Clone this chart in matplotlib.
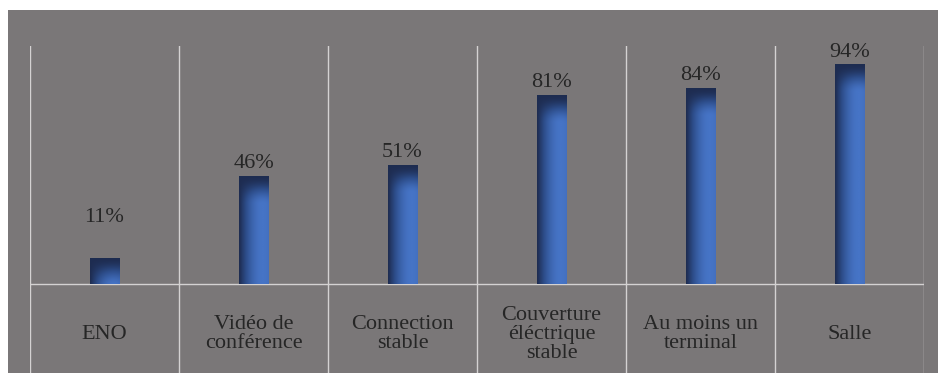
import numpy as np
import matplotlib.pyplot as plt
from matplotlib.patches import Rectangle
from matplotlib.colors import LinearSegmentedColormap

categories = ['ENO', 'Vidéo de\nconférence', 'Connection\nstable',
              'Couverture\néléctrique\nstable', 'Au moins un\nterminal', 'Salle']
values = [11, 46, 51, 81, 84, 94]

bg = '#7a7778'
grid_col = '#d4d2d2'
txt_col = '#262626'
font = ['Liberation Serif', 'DejaVu Serif']

fig = plt.figure(figsize=(9.38, 3.73), dpi=100)
fig.patch.set_facecolor('white')
# gray plot area panel
fig.patches.append(Rectangle((8 / 938, 0), 1 - 8 / 938, 1 - 10 / 373,
                             transform=fig.transFigure, facecolor=bg,
                             edgecolor='none', zorder=-10))

ax = fig.add_axes([30 / 938, 0, (924 - 30) / 938, (373 - 46) / 373])
ax.set_facecolor('none')
for s in ax.spines.values():
    s.set_visible(False)
ax.set_xticks([])
ax.set_yticks([])

for x in np.arange(-0.5, len(values), 1.0):
    ax.axvline(x, color=grid_col, lw=1.0, zorder=1)
ax.axhline(0, color=grid_col, lw=1.0, zorder=1)

# bar shading: dark on the left edge and the top, bright blue towards the right
cmap = LinearSegmentedColormap.from_list('barblue', ['#19223f', '#2d4d8a', '#4674c6'])
width = 0.2
bars = ax.bar(range(len(values)), values, width=width, color='none', zorder=2)
for bar, v in zip(bars, values):
    x0 = bar.get_x()
    xs = np.linspace(0, 1, 40)
    hx = np.clip(np.sin(xs * np.pi * 0.62), 0, 1)
    depth = np.linspace(0, v, 300)[:, None]   # distance from the bar top (data units)
    vy = np.clip(depth / 12.0, 0, 1)
    vy = vy * vy * (3 - 2 * vy)
    shade = 0.12 + 0.88 * hx[None, :] * vy
    ax.imshow(shade, cmap=cmap, vmin=0, vmax=1, aspect='auto',
              extent=(x0, x0 + width, 0, v), origin='upper',
              interpolation='bilinear', zorder=3)
    ax.text(bar.get_x() + width / 2, max(v, 23) + 5.5, f'{v}%', ha='center',
            va='center', fontsize=16, color=txt_col, family=font, zorder=4)

for i, c in enumerate(categories):
    ax.text(i, -21.5, c, ha='center', va='center', fontsize=16,
            color=txt_col, family=font, linespacing=1.0)

ax.set_xlim(-0.5, len(values) - 0.5)
ax.set_ylim(-38.2, 102.1)

fig.savefig('out.png', dpi=100)
